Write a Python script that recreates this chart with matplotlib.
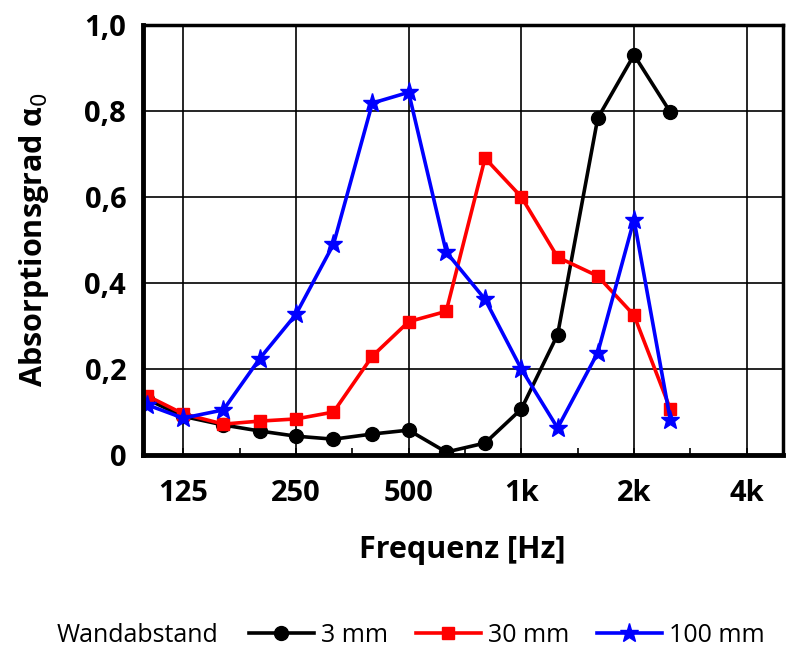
import matplotlib

matplotlib.use("Agg")
import matplotlib.pyplot as plt  # noqa: E402
from matplotlib.ticker import FixedLocator, NullFormatter  # noqa: E402

# third-octave band centre frequencies [Hz]
freqs = [100, 125, 160, 200, 250, 315, 400, 500, 630, 800, 1000, 1250, 1600, 2000, 2500]

# absorption coefficient per wall distance
alpha_3mm = [0.13, 0.09, 0.07, 0.056, 0.044, 0.037, 0.049, 0.058, 0.007, 0.028, 0.107, 0.28, 0.783, 0.93, 0.797]
alpha_30mm = [0.138, 0.096, 0.072, 0.079, 0.084, 0.10, 0.23, 0.31, 0.334, 0.69, 0.60, 0.46, 0.416, 0.325, 0.107]
alpha_100mm = [0.117, 0.086, 0.105, 0.224, 0.327, 0.49, 0.818, 0.843, 0.472, 0.362, 0.20, 0.063, 0.238, 0.547, 0.082]

xticks = [125, 250, 500, 1000, 2000, 4000]
xticklabels = ["125", "250", "500", "1k", "2k", "4k"]
yticks = [0, 0.2, 0.4, 0.6, 0.8, 1.0]
yticklabels = ["0", "0,2", "0,4", "0,6", "0,8", "1,0"]

plt.rcParams["font.family"] = ["Open Sans", "DejaVu Sans"]

fig = plt.figure(figsize=(7.89, 6.52), dpi=100)
ax = fig.add_axes([0.181, 0.302, 0.811, 0.660])

l1, = ax.plot(freqs, alpha_3mm, color="black", lw=2.6, marker="o", ms=10, label="3 mm")
l2, = ax.plot(freqs, alpha_30mm, color="#ff0000", lw=2.6, marker="s", ms=9, label="30 mm")
l3, = ax.plot(freqs, alpha_100mm, color="#0000ff", lw=2.6, marker="*", ms=14, label="100 mm")

ax.set_xscale("log")
ax.set_xlim(97.5, 4990)
ax.set_ylim(0, 1.0)

ax.xaxis.set_major_locator(FixedLocator(xticks))
ax.set_xticklabels(xticklabels)
half = [125 * 2 ** (k + 0.5) for k in range(-1, 6)]
ax.xaxis.set_minor_locator(FixedLocator(half))
ax.xaxis.set_minor_formatter(NullFormatter())
ax.set_yticks(yticks)
ax.set_yticklabels(yticklabels)

ax.grid(True, which="major", color="black", lw=1.2)
ax.set_axisbelow(True)
ax.tick_params(axis="both", which="major", length=0, labelsize=21, pad=12)
ax.tick_params(axis="x", which="minor", length=5, width=1.2, direction="in")
ax.tick_params(axis="x", which="major", length=5, width=1.2, direction="in", pad=17)
for lab in ax.get_xticklabels() + ax.get_yticklabels():
    lab.set_fontweight("bold")

for side in ["left", "bottom"]:
    ax.spines[side].set_linewidth(3.5)
for side in ["top", "right"]:
    ax.spines[side].set_linewidth(2.5)

ax.set_xlabel("Frequenz [Hz]", fontsize=22, fontweight="bold", labelpad=20)
ax.set_ylabel("Absorptionsgrad α$_0$", fontsize=22, fontweight="bold", labelpad=24)

fig.text(0.072, 0.026, "Wandabstand", fontsize=18, va="center")
fig.legend(handles=[l1, l2, l3], loc="center left", bbox_to_anchor=(0.315, 0.026),
           ncol=3, frameon=False, fontsize=18, handlelength=2.6, handletextpad=0.3,
           columnspacing=1.1, borderaxespad=0, borderpad=0)

fig.savefig("out.png", dpi=100)
